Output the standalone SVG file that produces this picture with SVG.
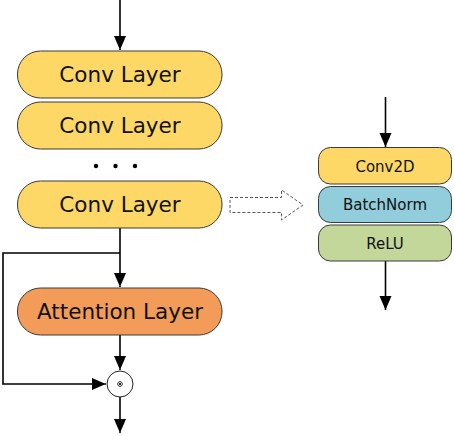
<svg xmlns="http://www.w3.org/2000/svg" width="454" height="436" viewBox="0 0 454 436">
<style>
.box{stroke:#3a3a3a;stroke-width:1}
.conv{fill:#FDD866}
.att{fill:#F39C5A}
.bn{fill:#92CDDC}
.relu{fill:#C4D79B}
.big{font-family:"DejaVu Sans",sans-serif;font-size:21.5px;fill:#111;text-anchor:middle}
.small{font-family:"DejaVu Sans",sans-serif;font-size:15px;fill:#111;text-anchor:middle}
.ln{fill:none;stroke:#000;stroke-width:1.6}
</style>
<defs>
<marker id="ah" markerWidth="12" markerHeight="14" viewBox="0 0 12 14" refX="14" refY="6" orient="auto" markerUnits="userSpaceOnUse">
<path d="M0,0 L14,6 L0,12 Z" fill="#000"/>
</marker>
</defs>
<g id="connectors">
<line class="ln" x1="120" y1="0" x2="120" y2="50" marker-end="url(#ah)"/>
<line class="ln" x1="120" y1="228" x2="120" y2="287" marker-end="url(#ah)"/>
<polyline class="ln" points="120,253 3,253 3,384 106,384" marker-end="url(#ah)"/>
<line class="ln" x1="120" y1="335" x2="120" y2="370" marker-end="url(#ah)"/>
<line class="ln" x1="120" y1="397" x2="120" y2="433" marker-end="url(#ah)"/>
<line class="ln" x1="385.5" y1="97" x2="385.5" y2="147" marker-end="url(#ah)"/>
<line class="ln" x1="385.5" y1="261" x2="385.5" y2="310" marker-end="url(#ah)"/>
<path d="M230,197.5 H281.5 V190 L303,205 L281.5,220 V212.5 H230 Z" fill="none" stroke="#555" stroke-width="1" stroke-dasharray="3,2"/>
</g>
<g id="conv1"><rect class="box conv" x="17.5" y="51" width="204.5" height="47" rx="23"/><text class="big" x="120" y="82">Conv Layer</text></g>
<g id="conv2"><rect class="box conv" x="17.5" y="102" width="204.5" height="47" rx="23"/><text class="big" x="120" y="133">Conv Layer</text></g>
<g id="dots" fill="#000"><circle cx="96" cy="166" r="2.2"/><circle cx="115.5" cy="166" r="2.2"/><circle cx="135" cy="166" r="2.2"/></g>
<g id="conv3"><rect class="box conv" x="17.5" y="181" width="204.5" height="47" rx="23"/><text class="big" x="120" y="212">Conv Layer</text></g>
<g id="attention"><rect class="box att" x="17.5" y="288" width="204.5" height="47" rx="23"/><text class="big" x="120" y="319">Attention Layer</text></g>
<g id="mult"><circle cx="120" cy="384" r="13" fill="#fff" stroke="#222" stroke-width="1"/><circle cx="120" cy="384" r="2.3" fill="none" stroke="#000" stroke-width="0.8"/><circle cx="120" cy="384" r="1" fill="#000"/></g>
<g id="conv2d"><rect class="box conv" x="318.5" y="147.5" width="133" height="36.5" rx="12"/><text class="small" x="385" y="171.5">Conv2D</text></g>
<g id="batchnorm"><rect class="box bn" x="318.5" y="186.5" width="133" height="36" rx="12"/><text class="small" x="385" y="210">BatchNorm</text></g>
<g id="relu"><rect class="box relu" x="318.5" y="225" width="133" height="36" rx="12"/><text class="small" x="385" y="248.5">ReLU</text></g>
</svg>
